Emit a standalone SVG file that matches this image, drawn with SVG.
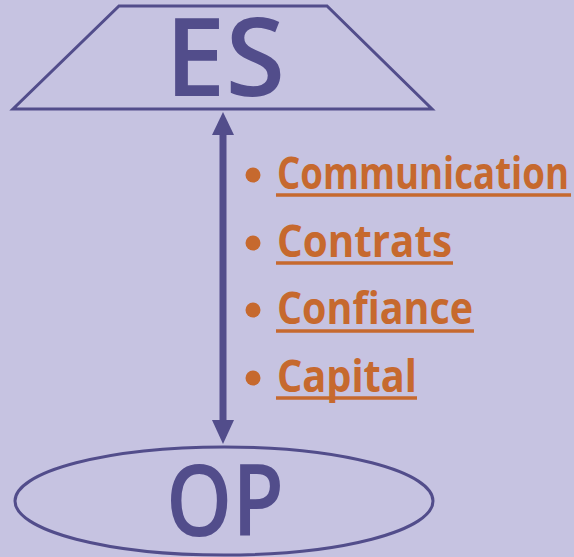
<svg xmlns="http://www.w3.org/2000/svg" width="574" height="557" viewBox="0 0 574 557">
<style>
.shape{fill:none;stroke:#524d8b;stroke-width:3}
.big{font-family:"Open Sans","DejaVu Sans",sans-serif;fill:#524d8b;text-anchor:middle}
.item{font-family:"Open Sans","DejaVu Sans",sans-serif;font-weight:bold;font-size:44px;fill:#c6692e}
.ul{stroke:#c6692e;stroke-width:3.5}
.dot{fill:#c6692e}
</style>
<rect width="574" height="557" fill="#c6c3e1"/>
<g id="es">
<polygon class="shape" points="119,6 327,6 432,109 13,109"/>
<text class="big" x="225" y="96" font-size="108" font-weight="600" textLength="120" lengthAdjust="spacingAndGlyphs">ES</text>
</g>
<g id="op">
<ellipse class="shape" cx="224" cy="501" rx="209" ry="54"/>
<text class="big" x="225" y="536" font-size="100" font-weight="600" textLength="118" lengthAdjust="spacingAndGlyphs">OP</text>
</g>
<g id="connectors">
<line x1="223" y1="132" x2="223" y2="423" stroke="#524d8b" stroke-width="7"/>
<polygon points="223,112 234,135 212,135" fill="#524d8b"/>
<polygon points="223,444 234,420 212,420" fill="#524d8b"/>
</g>
<g id="list">
<g id="item-communication">
<circle class="dot" cx="253" cy="175" r="7.5"/>
<text class="item" x="277" y="189" textLength="292" lengthAdjust="spacingAndGlyphs">Communication</text>
<line class="ul" x1="276" y1="195" x2="571" y2="195"/>
</g>
<g id="item-contrats">
<circle class="dot" cx="253" cy="243" r="7.5"/>
<text class="item" x="277" y="257" textLength="175" lengthAdjust="spacingAndGlyphs">Contrats</text>
<line class="ul" x1="276" y1="263" x2="453" y2="263"/>
</g>
<g id="item-confiance">
<circle class="dot" cx="253" cy="310" r="7.5"/>
<text class="item" x="277" y="324" textLength="196" lengthAdjust="spacingAndGlyphs">Confiance</text>
<line class="ul" x1="276" y1="331" x2="474" y2="331"/>
</g>
<g id="item-capital">
<circle class="dot" cx="253" cy="378" r="7.5"/>
<text class="item" x="277" y="392" textLength="140" lengthAdjust="spacingAndGlyphs">Capital</text>
<line class="ul" x1="276" y1="398" x2="417" y2="398"/>
</g>
</g>
</svg>
